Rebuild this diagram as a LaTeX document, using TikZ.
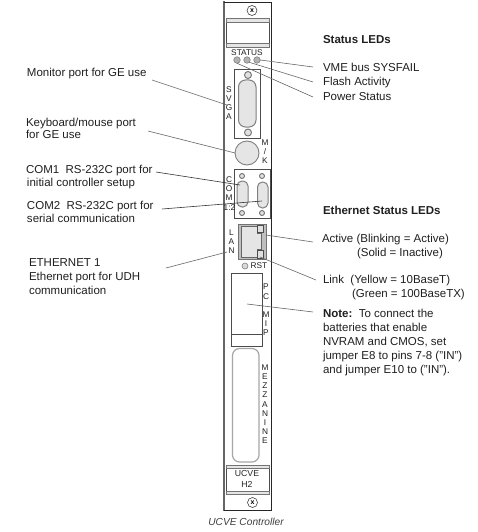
\documentclass[tikz,border=0pt]{standalone}
\usepackage{fontspec}
\setmainfont{Liberation Sans}
\tikzset{
  every node/.style={inner sep=0pt,outer sep=0pt},
  lbl/.style={anchor=base west,text=black!88,font=\fontsize{11.5}{13}\selectfont},
  lblb/.style={lbl,font=\fontsize{11.5}{13}\selectfont\bfseries},
  tiny letter/.style={anchor=center,text=black!88,font=\fontsize{8.3}{9}\selectfont},
  leader/.style={draw=black!60,line width=0.6pt},
  part/.style={draw=black!70,line width=0.6pt},
  band/.style={draw=black!55,fill=black!10,line width=0.6pt},
  screw/.style={circle,draw=black!75,line width=0.6pt,fill=white,minimum size=10pt,font=\fontsize{7}{8}\selectfont\bfseries},
  ledc/.style={circle,draw=black!50,fill=black!30,line width=0.6pt,minimum size=6.5pt},
  tinyscrew/.style={circle,draw=black!55,fill=black!12,line width=0.9pt,minimum size=5pt},
}
\begin{document}
\begin{tikzpicture}[x=1pt,y=-1pt]
\useasboundingbox (0,0) rectangle (477,532);
% panel
\path[fill=white] (224,2) rectangle (271,510);
\draw[draw=black!60,line width=1.5pt] (224,1.5) -- (224,510.5);
\draw[draw=black!85,line width=0.9pt] (224,2) -- (271,2) -- (271,510) -- (224,510);
% top handle
\node[screw] (screwtop) at (252,10.5) {x};
\draw[part] (226,18) rectangle (269,47);
\draw[band] (226,18) rectangle (269,22);
\draw[band] (226,43) rectangle (269,47);
% status
\node[tiny letter] (status) at (247,52.5) {STATUS};
\node[ledc] (ledA) at (237,60) {};
\node[ledc] (ledB) at (247,60) {};
\node[ledc] (ledC) at (257,60) {};
% svga
\draw[part] (234,69) rectangle (260.5,138);
\draw[draw=black!50,fill=black!10,line width=1pt,rounded corners=7pt] (238.5,80) rectangle (256,127);
\node[tinyscrew,minimum size=7pt] (svgaT) at (248,75) {};
\node[tinyscrew,minimum size=7pt] (svgaB) at (248,132.5) {};
\node[tiny letter] (sv1) at (229,90) {S};
\node[tiny letter] (sv2) at (229,99) {V};
\node[tiny letter] (sv3) at (229,108) {G};
\node[tiny letter] (sv4) at (229,117) {A};
% keyboard
\node[circle,draw=black!50,fill=black!10,line width=0.9pt,minimum size=24pt] (kbd) at (247,153) {};
\node[tiny letter] (mk1) at (265,143) {M};
\node[tiny letter] (mk2) at (265,152) {/};
\node[tiny letter] (mk3) at (265,161) {K};
% com
\draw[part] (234,169) rectangle (270.6,218.5);
\draw[draw=black!50,fill=black!10,line width=1pt,rounded corners=5pt] (237,181) rectangle (248,207);
\draw[draw=black!50,fill=black!10,line width=1pt,rounded corners=5pt] (257.5,182) rectangle (268,208);
\node[tinyscrew] (cs1) at (242,176) {};
\node[tinyscrew] (cs2) at (262,176) {};
\node[tinyscrew] (cs3) at (242,213) {};
\node[tinyscrew] (cs4) at (262,213) {};
\node[tiny letter] (c1) at (229,180) {C};
\node[tiny letter] (c2) at (229,189) {O};
\node[tiny letter] (c3) at (229,198) {M};
\node[tiny letter] (c4) at (229.5,208) {1:2};
% lan
\node[tiny letter] (l1) at (231.5,232.5) {L};
\node[tiny letter] (l2) at (231.5,242) {A};
\node[tiny letter] (l3) at (231.5,251) {N};
\draw[draw=black!55,fill=black!25,line width=0.7pt] (238.5,224) rectangle (266,259.5);
\draw[draw=black!60,fill=black!10,line width=0.6pt] (241,226.5) -- (257,226.5) -- (257,233) -- (261,233) -- (261,249) -- (257,249) -- (257,257) -- (241,257) -- cycle;
\draw[draw=black!70,fill=black!12,line width=0.6pt] (257,225) rectangle (263,232);
\draw[draw=black!70,fill=black!12,line width=0.6pt] (257,250) rectangle (263,258);
\node[ledc,fill=black!15,minimum size=6pt] (rstled) at (245,266) {};
\node[tiny letter] (rst) at (259,266) {RST};
% pcmip
\draw[part] (231,273.5) rectangle (262,346);
\draw[part] (231,334.5) -- (262,334.5);
\node[tiny letter] (p1) at (266,287) {P};
\node[tiny letter] (p2) at (266,297) {C};
\node[tiny letter] (p3) at (266,315) {M};
\node[tiny letter] (p4) at (266,324) {I};
\node[tiny letter] (p5) at (266,333) {P};
% mezzanine
\draw[draw=black!35,line width=1.2pt,rounded corners=7pt] (232.5,348.5) rectangle (259,462);
\node[tiny letter] (m1) at (265,368) {M};
\node[tiny letter] (m2) at (265,377) {E};
\node[tiny letter] (m3) at (265,386) {Z};
\node[tiny letter] (m4) at (265,395) {Z};
\node[tiny letter] (m5) at (265,405) {A};
\node[tiny letter] (m6) at (265,414) {N};
\node[tiny letter] (m7) at (265,423) {I};
\node[tiny letter] (m8) at (265,432) {N};
\node[tiny letter] (m9) at (265,441) {E};
% ucve box
\draw[part] (226,465) rectangle (269,494);
\draw[band] (226,465) rectangle (269,468);
\draw[band] (226,491) rectangle (269,494);
\node[anchor=center,text=black!85,font=\fontsize{8.7}{10}\selectfont] (ucve) at (247,473.5) {UCVE};
\node[anchor=center,text=black!85,font=\fontsize{8.7}{10}\selectfont] (htwo) at (247,484.5) {H2};
\node[screw] (screwbot) at (252.5,502.5) {x};
\node[anchor=center,text=black!75,font=\fontsize{10.2}{12}\selectfont\itshape] (caption) at (246,522) {UCVE Controller};
% right labels
\node[lblb] (t1) at (323,44) {Status LEDs};
\node[lbl] (t2) at (323,72) {VME bus SYSFAIL};
\node[lbl] (t3) at (323,86) {Flash Activity};
\node[lbl] (t4) at (323,100) {Power Status};
\node[lblb] (t5) at (323,214) {Ethernet Status LEDs};
\node[lbl] (t6) at (322,242) {Active (Blinking = Active)};
\node[lbl] (t7) at (357,256) {(Solid = Inactive)};
\node[lbl] (t8) at (323,283) {Link\ \ (Yellow = 10BaseT)};
\node[lbl] (t9) at (352,297) {(Green = 100BaseTX)};
\node[lbl] (t10) at (323,317) {\textbf{Note:}\ \ To connect the};
\node[lbl] (t11) at (323,331) {batteries that enable};
\node[lbl] (t12) at (323,345) {NVRAM and CMOS, set};
\node[lbl] (t13) at (323,359) {jumper E8 to pins 7-8 ("IN")};
\node[lbl] (t14) at (323,373) {and jumper E10 to ("IN").};
% left labels
\node[lbl] (l01) at (27,77) {Monitor port for GE use};
\node[lbl] (l02) at (26,126) {Keyboard/mouse port};
\node[lbl] (l03) at (26,139) {for GE use};
\node[lbl] (l04) at (26,173) {COM1\ \ RS-232C port for};
\node[lbl] (l05) at (27,186) {initial controller setup};
\node[lbl] (l06) at (27,209) {COM2\ \ RS-232C port for};
\node[lbl] (l07) at (27,222) {serial communication};
\node[lbl] (l08) at (29,266) {ETHERNET 1};
\node[lbl] (l09) at (29,280) {Ethernet port for UDH};
\node[lbl] (l10) at (29,294) {communication};
% leader ends
\coordinate (eVme) at (313,67);
\coordinate (eFlash) at (313,82);
\coordinate (ePower) at (313,97);
\coordinate (eActive) at (313,242);
\coordinate (eLink) at (316,280);
\coordinate (eNote) at (313,312);
\coordinate (sActive) at (266,235);
\coordinate (sLink) at (260,257);
\coordinate (sNote) at (247,304);
\coordinate (eMon) at (152,80);
\coordinate (sMon) at (227,105);
\coordinate (eKbd) at (148,131);
\coordinate (eCom1) at (156,172);
\coordinate (sCom1) at (240,185);
\coordinate (eCom2) at (162,209);
\coordinate (sCom2) at (262,201);
\coordinate (eEth) at (166,268);
\coordinate (sEth) at (227,252);
\draw[leader] (ledC.east) -- (eVme);
\draw[leader] (ledB.south east) -- (eFlash);
\draw[leader] (ledA.south) -- (ePower);
\draw[leader] (sActive) -- (eActive);
\draw[leader] (sLink) -- (eLink);
\draw[leader] (sNote) -- (eNote);
\draw[leader] (eMon) -- (sMon);
\draw[leader] (eKbd) -- (kbd.west);
\draw[leader,draw=black!80] (eCom1) -- (sCom1);
\draw[leader,draw=black!80] (eCom2) -- (sCom2);
\draw[leader] (eEth) -- (sEth);
\end{tikzpicture}
\end{document}
